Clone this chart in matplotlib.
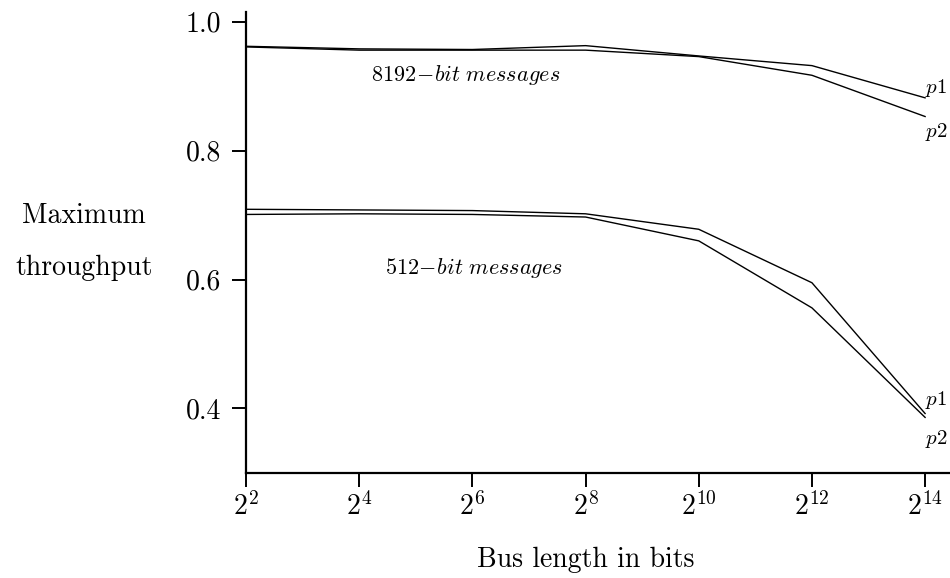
import matplotlib
matplotlib.use('Agg')
import matplotlib.pyplot as plt

# Data (bus length exponents, throughput)
bus_exp = [2, 4, 6, 8, 10, 12, 14]
bus_bits = [2 ** e for e in bus_exp]
tp_8192_p1 = [0.962, 0.958, 0.957, 0.963, 0.947, 0.932, 0.882]
tp_8192_p2 = [0.961, 0.956, 0.956, 0.956, 0.946, 0.917, 0.853]
tp_512_p1 = [0.709, 0.708, 0.707, 0.702, 0.678, 0.595, 0.392]
tp_512_p2 = [0.701, 0.702, 0.701, 0.697, 0.660, 0.556, 0.386]
yticks = [0.4, 0.6, 0.8, 1.0]

plt.rcParams['font.family'] = 'serif'
plt.rcParams['font.serif'] = ['cmr10']
plt.rcParams['mathtext.fontset'] = 'cm'
plt.rcParams['axes.unicode_minus'] = False

fig = plt.figure(figsize=(9.5, 5.78), dpi=100)
ax = fig.add_axes([0.259, 0.182, 0.741, 0.797])

for ys in [tp_8192_p1, tp_8192_p2, tp_512_p1, tp_512_p2]:
    ax.plot(bus_bits, ys, color='black', lw=1.0)

ax.set_xscale('log', base=2)
ax.set_xlim(2 ** 2, 2 ** 14.44)
ax.set_ylim(0.30, 1.015)
ax.set_xticks(bus_bits)
ax.set_xticklabels([r'$2^{%d}$' % e for e in bus_exp])
ax.minorticks_off()
ax.set_yticks(yticks)
ax.set_yticklabels(['%.1f' % v for v in yticks])

for s in ['top', 'right']:
    ax.spines[s].set_visible(False)
for s in ['left', 'bottom']:
    ax.spines[s].set_linewidth(1.6)
ax.tick_params(direction='out', length=10, width=1.4, labelsize=20)
ax.tick_params(axis='y', pad=8)
ax.tick_params(axis='x', pad=4)

# axis titles
fig.text(586 / 950, 1 - 560 / 578, 'Bus length in bits', fontsize=20,
         ha='center', va='center')
fig.text(84 / 950, 1 - 223 / 578, 'Maximum', fontsize=20, ha='center', va='baseline')
fig.text(84 / 950, 1 - 275 / 578, 'throughput', fontsize=20, ha='center', va='baseline')

ax.text(2 ** 4.2, 0.908, r'$8192\!-\!bit\ messages$', fontsize=16)
ax.text(2 ** 4.45, 0.608, r'$512\!-\!bit\ messages$', fontsize=16)
ax.text(2 ** 14.0, tp_8192_p1[-1] + 0.008, r'$p1$', fontsize=15)
ax.text(2 ** 14.0, tp_8192_p2[-1] - 0.032, r'$p2$', fontsize=15)
ax.text(2 ** 14.0, tp_512_p1[-1] + 0.014, r'$p1$', fontsize=15)
ax.text(2 ** 14.0, tp_512_p2[-1] - 0.042, r'$p2$', fontsize=15)

fig.savefig('out.png', dpi=100)
